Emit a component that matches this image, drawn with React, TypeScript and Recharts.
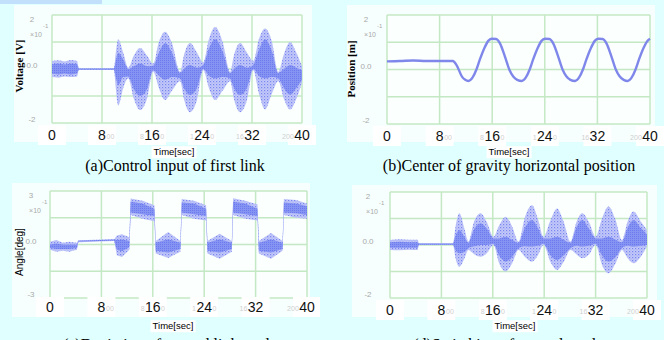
import { ComposedChart, Area, Line, XAxis, YAxis, CartesianGrid } from 'recharts';

const timeTicks = [0, 8, 16, 24, 32, 40];
const timeTickLabels = ['0', '8', '16', '24', '32', '40'];
// leftovers of the original sample-count labels (0..20000) peeking out beside the pasted-over time labels
const sampleLeftBits = ['', '', '8', '1', '16', '200'];
const sampleRightBits = ['', '00', '0', '0', '', ''];

// (a) control input of first link, voltage x10^-1
const aTime = [0, 1, 2, 3, 4.0, 4.3, 9.9, 10.2, 10.6, 11.4, 12.2, 13.1, 14.1, 15.2, 16.2, 17.1, 18.1, 19.2, 20.5, 21.1, 22.1, 23.2, 24.2, 25.1, 26.1, 27.3, 28.5, 29.1, 30.1, 31.2, 32.2, 33.1, 34.1, 35.2, 36.2, 37.1, 38.1, 39.1, 40];
const aOuterHi = [0.3, 0.32, 0.28, 0.33, 0.3, 0.03, 0.03, 0.6, 1.1, 0.6, 0.05, 0.5, 0.78, 0.5, 0.2, 1.0, 1.38, 0.95, -0.1, 0.5, 0.96, 0.6, 0.25, 1.1, 1.56, 1.0, -0.1, 0.5, 0.96, 0.6, 0.3, 1.1, 1.5, 1.0, -0.1, 0.55, 1.0, 0.6, 0.1];
const aOuterLo = [-0.3, -0.32, -0.28, -0.3, -0.28, -0.04, -0.04, -0.7, -1.35, -0.7, -0.35, -1.1, -1.52, -1.1, -0.1, -0.7, -1.15, -0.8, -0.45, -1.1, -1.6, -1.15, -0.05, -0.7, -1.15, -0.8, -0.45, -1.1, -1.6, -1.15, -0.05, -0.9, -1.5, -0.9, -0.45, -1.1, -1.5, -1.1, -0.5];
const aInnerHi = [0.18, 0.2, 0.17, 0.2, 0.18, 0.02, 0.02, 0.3, 0.6, 0.35, 0.0, 0.1, 0.2, 0.1, 0.12, 0.6, 0.95, 0.6, -0.15, 0.0, 0.15, 0.05, 0.15, 0.75, 1.1, 0.65, -0.15, 0.0, 0.15, 0.05, 0.15, 0.7, 1.1, 0.65, -0.15, 0.0, 0.15, 0.05, -0.05];
const aInnerLo = [-0.18, -0.2, -0.17, -0.2, -0.17, -0.03, -0.03, -0.3, -0.6, -0.3, -0.28, -0.75, -1.0, -0.75, -0.05, -0.25, -0.4, -0.3, -0.35, -0.7, -0.96, -0.7, 0.0, -0.25, -0.35, -0.3, -0.35, -0.7, -0.96, -0.7, 0.0, -0.25, -0.35, -0.3, -0.35, -0.7, -0.95, -0.7, -0.4];

// (b) center of gravity horizontal position x10^-1
const bTime = [0, 2, 4, 6, 8, 10.0, 10.6, 11.4, 11.9, 12.4, 13.0, 13.6, 14.1, 14.8, 15.4, 15.9, 16.6, 17.2, 17.9, 18.6, 19.2, 19.8, 20.5, 21.1, 21.7, 22.2, 22.9, 23.5, 24.0, 24.7, 25.3, 26.0, 26.7, 27.3, 27.9, 28.6, 29.2, 29.8, 30.3, 31.0, 31.6, 32.1, 32.8, 33.4, 34.1, 34.8, 35.4, 36.0, 36.6, 37.2, 37.8, 38.3, 39.0, 39.6, 40];
const bPos = [0.3, 0.31, 0.33, 0.31, 0.31, 0.31, 0.15, -0.26, -0.38, -0.42, -0.3, 0.0, 0.35, 0.78, 1.05, 1.13, 1.12, 0.95, 0.5, 0.0, -0.26, -0.38, -0.42, -0.3, 0.0, 0.35, 0.78, 1.05, 1.13, 1.12, 0.95, 0.5, 0.0, -0.26, -0.38, -0.42, -0.3, 0.0, 0.35, 0.78, 1.05, 1.13, 1.12, 0.95, 0.5, 0.0, -0.26, -0.38, -0.42, -0.3, 0.0, 0.35, 0.78, 1.05, 1.13];

// (c) angle deviation x10^-1
const cTime = [0, 1, 2, 3, 4.2, 4.4, 10.0, 10.4, 11.2, 12.35, 12.55, 14.4, 16.25, 16.45, 18.4, 20.3, 20.5, 22.4, 24.3, 24.5, 26.4, 28.3, 28.5, 30.4, 32.3, 32.5, 34.4, 36.2, 36.4, 38.3, 40];
const cOuterHi = [0.15, 0.25, 0.1, 0.15, 0.1, 0.24, 0.3, 0.5, 0.57, 0.4, 2.58, 2.45, 2.2, 0.2, 0.7, 0.2, 2.55, 2.45, 2.2, 0.2, 0.6, 0.2, 2.6, 2.45, 2.25, 0.2, 0.65, 0.2, 2.55, 2.5, 2.3];
const cOuterLo = [-0.3, -0.4, -0.35, -0.4, -0.3, 0.12, 0.2, -0.6, -0.7, -0.3, 1.65, 1.45, 1.3, -0.5, -0.75, -0.4, 1.65, 1.45, 1.35, -0.5, -0.8, -0.4, 1.65, 1.45, 1.35, -0.5, -0.8, -0.35, 1.65, 1.5, 1.45];
const cInnerHi = [0.0, 0.05, 0.0, 0.0, 0.0, 0.21, 0.28, 0.25, 0.28, 0.2, 2.4, 2.3, 2.0, 0.1, 0.3, 0.1, 2.35, 2.3, 2.0, 0.1, 0.3, 0.1, 2.4, 2.3, 2.0, 0.1, 0.3, 0.1, 2.35, 2.3, 2.15];
const cInnerLo = [-0.2, -0.25, -0.25, -0.25, -0.2, 0.15, 0.22, -0.3, -0.38, -0.15, 1.8, 1.7, 1.6, -0.35, -0.45, -0.25, 1.8, 1.7, 1.6, -0.35, -0.45, -0.25, 1.8, 1.7, 1.6, -0.35, -0.45, -0.25, 1.8, 1.75, 1.65];

// (d) switching signal x10^-1
const dTime = [0, 1.5, 3, 4.3, 4.5, 9.8, 10.2, 10.8, 11.6, 12.2, 13.1, 14.1, 15.1, 16.1, 17.0, 18.0, 19.0, 20.0, 21.0, 22.1, 23.0, 23.9, 25.0, 26.0, 27.0, 28.1, 29.0, 29.9, 31.0, 32.0, 33.0, 34.0, 35.1, 36.1, 37.0, 37.9, 39.0, 40];
const dOuterHi = [0.19, 0.22, 0.2, 0.2, 0.07, 0.07, 0.7, 1.2, 0.6, 0.13, 0.9, 1.2, 0.85, 0.31, 0.75, 1.07, 0.7, 0.13, 1.05, 1.5, 1.0, 0.31, 0.95, 1.38, 0.9, 0.13, 0.85, 1.2, 0.85, 0.31, 1.0, 1.45, 0.95, 0.19, 0.9, 1.26, 0.9, 0.57];
const dOuterLo = [-0.19, -0.2, -0.18, -0.19, 0.0, 0.0, -0.5, -0.82, -0.5, -0.19, -0.35, -0.44, -0.3, 0.0, -0.7, -1.0, -0.7, -0.19, -0.45, -0.63, -0.4, 0.0, -0.65, -0.94, -0.65, -0.19, -0.35, -0.5, -0.35, 0.0, -0.75, -1.07, -0.7, -0.19, -0.5, -0.69, -0.45, -0.06];
const dInnerHi = [0.1, 0.12, 0.1, 0.1, 0.06, 0.06, 0.35, 0.57, 0.3, 0.08, 0.6, 0.82, 0.6, 0.25, 0.25, 0.31, 0.2, 0.08, 0.65, 0.94, 0.65, 0.25, 0.25, 0.31, 0.2, 0.08, 0.65, 0.94, 0.6, 0.25, 0.25, 0.31, 0.2, 0.1, 0.65, 0.94, 0.65, 0.4];
const dInnerLo = [-0.1, -0.1, -0.1, -0.1, 0.01, 0.01, -0.2, -0.31, -0.25, -0.12, -0.05, 0.0, 0.0, 0.05, -0.4, -0.63, -0.45, -0.12, -0.05, -0.06, -0.03, 0.05, -0.4, -0.57, -0.4, -0.12, -0.03, -0.06, -0.03, 0.05, -0.4, -0.63, -0.45, -0.12, -0.03, -0.06, -0.03, 0.0];

const bandRows = (time: number[], oLo: number[], oHi: number[], iLo: number[], iHi: number[]) =>
  time.map((t, i) => ({ t, outer: [oLo[i], oHi[i]], inner: [iLo[i], iHi[i]] }));

const aData = bandRows(aTime, aOuterLo, aOuterHi, aInnerLo, aInnerHi);
const bData = bTime.map((t, i) => ({ t, pos: bPos[i] }));
const cData = bandRows(cTime, cOuterLo, cOuterHi, cInnerLo, cInnerHi);
const dData = bandRows(dTime, dOuterLo, dOuterHi, dInnerLo, dInnerHi);

const narrow = "'Liberation Sans Narrow', 'Liberation Sans', Arial, sans-serif";
const serif = "'Liberation Serif', 'Times New Roman', serif";
const sans = "'Liberation Sans', Arial, sans-serif";

const XTick = ({ x, y, payload, dy }: any) => {
  const i = timeTicks.indexOf(payload.value);
  const half = timeTickLabels[i].length * 3.6;
  return (
    <g>
      <rect x={x - 14} y={y + dy - 10} width={28} height={20} fill="#ffffff" />
      {sampleLeftBits[i] && (
        <text x={x - half - 1} y={y + dy + 4} textAnchor="end" fontSize={7} fill="#cfcfcf" fontFamily={narrow}>
          {sampleLeftBits[i]}
        </text>
      )}
      {sampleRightBits[i] && (
        <text x={x + half + 1} y={y + dy + 4} textAnchor="start" fontSize={7} fill="#cfcfcf" fontFamily={narrow}>
          {sampleRightBits[i]}
        </text>
      )}
      <text x={x} y={y + dy + 5} textAnchor="middle" fontSize={14} fill="#111" fontFamily={narrow}>
        {timeTickLabels[i]}
      </text>
    </g>
  );
};

const YTick = ({ x, y, payload, top, bottom, dx }: any) => {
  const v = payload.value;
  if (v !== top && v !== 0 && v !== bottom) return <g />;
  const cy = v === top ? y + 4 : y - 4;
  return (
    <g fill="#a9a9a9" fontFamily={sans}>
      <text x={x + dx} y={cy + 3} textAnchor="middle" fontSize={8}>
        {v === 0 ? '0.0' : String(v)}
      </text>
      {v === top && (
        <>
          <text x={x + dx + 4} y={y + 22} textAnchor="middle" fontSize={7}>×10</text>
          <text x={x + dx + 11} y={y + 13} fontSize={6}>-1</text>
        </>
      )}
    </g>
  );
};

// dotted fills so the bands read like the dense scatter clouds of the original
const CloudDefs = ({ id }: { id: string }) => (
  <defs>
    <pattern id={`${id}-outer`} width={3} height={3} patternUnits="userSpaceOnUse">
      <rect width={3} height={3} fill="#c3c9f9" />
      <rect x={0} y={0} width={1.2} height={1.2} fill="#7a86ef" />
      <rect x={1.5} y={1.5} width={1} height={1} fill="#97a1f4" />
    </pattern>
    <pattern id={`${id}-inner`} width={2} height={2} patternUnits="userSpaceOnUse">
      <rect width={2} height={2} fill="#8593f2" />
      <rect x={0} y={0} width={1} height={1} fill="#6c7aee" />
    </pattern>
  </defs>
);

function Panel({ id, left, top, width, height, margin, yWidth, xHeight, data, range, yTicks, dx, dy, children }: any) {
  return (
    <div style={{ position: 'absolute', left, top }}>
      <ComposedChart width={width} height={height} data={data} margin={margin}>
        <CloudDefs id={id} />
        <CartesianGrid stroke="#c4e8c4" strokeWidth={1.5} fill="#fbfffe" />
        <XAxis
          dataKey="t"
          type="number"
          domain={[0, 40]}
          ticks={timeTicks}
          interval={0}
          axisLine={false}
          tickLine={false}
          tickSize={0}
          tickMargin={0}
          height={xHeight}
          tick={(p: any) => <XTick {...p} dy={dy} />}
        />
        <YAxis
          type="number"
          domain={[-range, range]}
          ticks={yTicks}
          interval={0}
          allowDataOverflow
          axisLine={false}
          tickLine={false}
          tickSize={0}
          tickMargin={0}
          width={yWidth}
          tick={(p: any) => <YTick {...p} top={range} bottom={-range} dx={dx} />}
        />
        {children}
      </ComposedChart>
    </div>
  );
}

const bandArea = (key: string, fill: string, curve: any) => (
  <Area
    dataKey={key}
    type={curve}
    stroke="none"
    fill={fill}
    fillOpacity={1}
    dot={false}
    activeDot={false}
    isAnimationActive={false}
  />
);

const box = (l: number, t: number, w: number, h: number, bg: string) => (
  <div style={{ position: 'absolute', left: l, top: t, width: w, height: h, background: bg }} />
);

const Label = ({ x, y, text, size, font, weight, rotate, white }: any) => (
  <div
    style={{
      position: 'absolute',
      left: x,
      top: y,
      transform: `translate(-50%, -50%)${rotate ? ' rotate(-90deg)' : ''}`,
      whiteSpace: 'nowrap',
      fontSize: size,
      fontFamily: font,
      fontWeight: weight || 'normal',
      lineHeight: 1,
      color: '#000',
      background: white ? '#ffffff' : 'transparent',
      padding: white ? '1px 2px' : 0,
    }}
  >
    {text}
  </div>
);

export default function App() {
  return (
    <div style={{ position: 'absolute', left: 0, top: 0, width: 664, height: 340, background: '#e0ffff', overflow: 'hidden' }}>
      {box(0, 0, 102, 4, '#c2e0fb')}
      {box(14, 5, 298, 137, '#f6fffe')}
      {box(347, 5, 308, 137, '#f6fffe')}
      {box(12, 183, 298, 134, '#f6fffe')}
      {box(352, 185, 305, 132, '#f6fffe')}

      <Panel id="pa" left={0} top={0} width={320} height={150} margin={{ top: 15, right: 18, bottom: 0, left: 0 }}
        yWidth={52} xHeight={27} data={aData} range={2} yTicks={[-2, -1, 0, 1, 2]} dx={-20} dy={12}>
        {bandArea('outer', 'url(#pa-outer)', 'monotone')}
        {bandArea('inner', 'url(#pa-inner)', 'monotone')}
      </Panel>

      <Panel id="pb" left={332} top={0} width={332} height={150} margin={{ top: 15, right: 14, bottom: 0, left: 0 }}
        yWidth={55} xHeight={26} data={bData} range={2} yTicks={[-2, -1, 0, 1, 2]} dx={-21} dy={12}>
        <Line dataKey="pos" type="monotone" stroke="#7f88ea" strokeWidth={2.4} dot={false} activeDot={false} isAnimationActive={false} />
      </Panel>

      <Panel id="pc" left={0} top={170} width={320} height={160} margin={{ top: 21, right: 13, bottom: 0, left: 0 }}
        yWidth={50} xHeight={32} data={cData} range={3} yTicks={[-3, -1.5, 0, 1.5, 3]} dx={-19} dy={9}>
        {bandArea('outer', 'url(#pc-outer)', 'linear')}
        {bandArea('inner', 'url(#pc-inner)', 'linear')}
      </Panel>

      <Panel id="pd" left={332} top={170} width={332} height={160} margin={{ top: 22, right: 17, bottom: 0, left: 0 }}
        yWidth={58} xHeight={32} data={dData} range={2} yTicks={[-2, -1, 0, 1, 2]} dx={-22} dy={12}>
        {bandArea('outer', 'url(#pd-outer)', 'monotone')}
        {bandArea('inner', 'url(#pd-inner)', 'monotone')}
      </Panel>

      <Label x={19} y={66} text="Voltage  [V]" size={11} font={serif} weight="bold" rotate />
      <Label x={351} y={69} text="Position [m]" size={11} font={serif} weight="bold" rotate />
      <Label x={20} y={252} text="Angle[deg]" size={10} font={sans} rotate />

      <Label x={174} y={152} text="Time[sec]" size={9.5} font={narrow} white />
      <Label x={509} y={152} text="Time[sec]" size={9.5} font={narrow} white />
      <Label x={173} y={326} text="Time[sec]" size={9.5} font={narrow} white />
      <Label x={515} y={326} text="Time[sec]" size={9.5} font={narrow} white />

      <Label x={175} y={166} text="(a)Control input of first link" size={16} font={serif} />
      <Label x={509} y={166} text="(b)Center of gravity horizontal position" size={16} font={serif} />
      <Label x={170} y={345} text="(c)Deviation of second link angle" size={16} font={serif} />
      <Label x={508} y={345} text="(d)Switching of control mode" size={16} font={serif} />
    </div>
  );
}
